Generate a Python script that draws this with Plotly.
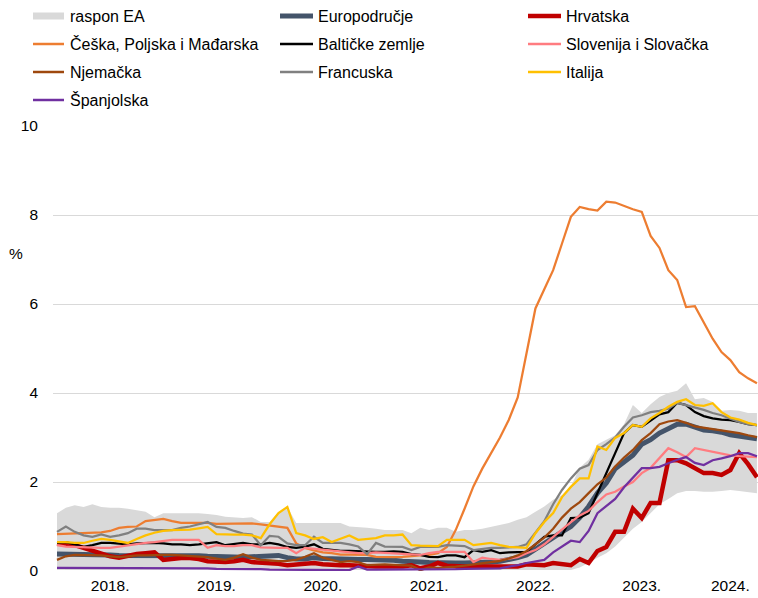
import plotly.graph_objects as go

# ---- data (monthly, Jan 2018 - Aug 2024), % ----
band_lo = [0.02,0.02,0.02,0.02,0.02,0.02,0.02,0.02,0.02,0.02,
           0.02,0.02,0.02,0.02,0.02,0.02,0.02,0.02,0.02,0.02,
           0.02,0.02,0.02,0.02,0.02,0.02,0.02,0.02,0.02,0.02,
           0.02,0.02,0.02,0.02,0.02,0.02,0.02,0.02,0.02,0.02,
           0.02,0.02,0.02,0.02,0.02,0.02,0.02,0.02,0.02,0.02,
           0.02,0.02,0.02,0.02,0.02,0.02,0.02,0.02,0.02,0.08,
           0.18,0.30,0.40,0.55,0.75,0.95,1.10,1.30,1.50,1.62,
           1.75,1.80,1.80,1.78,1.78,1.80,1.82,1.80,1.78,1.75]
band_hi = [1.30,1.42,1.48,1.44,1.50,1.44,1.42,1.42,1.40,1.37,
           1.33,1.21,1.30,1.30,1.30,1.30,1.30,1.28,1.26,1.22,
           1.21,1.19,1.21,1.10,1.10,1.32,1.44,1.08,1.08,1.08,
           1.08,1.08,1.08,1.00,0.99,0.97,0.95,0.92,0.92,0.92,
           0.85,0.97,0.92,0.97,0.97,0.88,0.92,0.92,0.95,0.99,
           1.03,1.08,1.15,1.21,1.33,1.45,1.60,1.71,1.90,2.32,
           2.50,2.85,2.95,3.05,3.30,3.73,3.55,3.75,3.91,4.00,
           4.05,4.22,3.86,3.89,3.80,3.60,3.62,3.60,3.55,3.55]
ea = [0.38,0.38,0.37,0.37,0.36,0.36,0.36,0.35,0.35,0.35,
      0.35,0.35,0.36,0.36,0.35,0.35,0.34,0.33,0.32,0.31,
      0.31,0.31,0.32,0.33,0.36,0.35,0.30,0.27,0.27,0.30,
      0.28,0.27,0.27,0.27,0.26,0.26,0.26,0.25,0.24,0.22,
      0.20,0.20,0.19,0.18,0.18,0.18,0.18,0.18,0.19,0.20,
      0.22,0.25,0.30,0.36,0.50,0.62,0.75,0.88,1.00,1.20,
      1.45,1.75,1.98,2.30,2.45,2.60,2.85,2.95,3.10,3.20,
      3.30,3.30,3.22,3.17,3.15,3.12,3.06,3.03,3.00,2.97]
hr = [0.62,0.60,0.58,0.52,0.46,0.40,0.33,0.30,0.35,0.38,
      0.40,0.42,0.25,0.28,0.29,0.29,0.27,0.22,0.21,0.20,
      0.22,0.25,0.20,0.19,0.18,0.16,0.13,0.14,0.16,0.18,
      0.15,0.13,0.13,0.13,0.12,0.09,0.10,0.10,0.10,0.10,
      0.13,0.06,0.10,0.18,0.12,0.10,0.10,0.10,0.10,0.10,
      0.10,0.12,0.10,0.15,0.13,0.13,0.18,0.15,0.13,0.27,
      0.18,0.45,0.54,0.88,0.88,1.40,1.19,1.53,1.53,2.49,
      2.49,2.42,2.30,2.20,2.20,2.16,2.27,2.65,2.40,2.11]
cz_pl_hu = [0.83,0.84,0.85,0.85,0.86,0.87,0.90,0.97,0.99,1.00,
            1.12,1.15,1.17,1.12,1.08,1.08,1.08,1.08,1.06,1.06,
            1.07,1.07,1.07,1.05,1.02,1.00,0.97,0.62,0.52,0.46,
            0.42,0.40,0.37,0.37,0.37,0.36,0.32,0.31,0.31,0.32,
            0.34,0.35,0.36,0.40,0.54,0.92,1.40,1.90,2.30,2.65,
            3.00,3.40,3.90,4.90,5.90,6.33,6.76,7.36,7.96,8.18,
            8.13,8.10,8.30,8.28,8.20,8.13,8.07,7.53,7.26,6.76,
            6.54,5.93,5.95,5.57,5.22,4.92,4.74,4.47,4.33,4.22]
baltic = [0.63,0.65,0.60,0.54,0.58,0.63,0.63,0.62,0.60,0.62,
          0.63,0.63,0.62,0.60,0.60,0.58,0.60,0.63,0.65,0.58,
          0.60,0.63,0.60,0.60,0.63,0.60,0.54,0.52,0.55,0.60,
          0.50,0.47,0.45,0.45,0.44,0.43,0.43,0.43,0.44,0.43,
          0.38,0.36,0.32,0.31,0.35,0.35,0.31,0.47,0.43,0.47,
          0.40,0.42,0.43,0.43,0.60,0.77,0.80,0.80,1.19,1.20,
          1.30,1.75,2.20,2.65,3.10,3.28,3.24,3.38,3.52,3.57,
          3.78,3.73,3.57,3.48,3.43,3.40,3.39,3.35,3.30,3.28]
si_sk = [0.58,0.55,0.54,0.53,0.52,0.52,0.52,0.55,0.58,0.60,
         0.63,0.65,0.67,0.70,0.70,0.70,0.70,0.52,0.58,0.56,
         0.56,0.58,0.58,0.53,0.52,0.52,0.52,0.40,0.52,0.50,
         0.49,0.47,0.45,0.43,0.40,0.40,0.42,0.41,0.40,0.38,
         0.37,0.36,0.40,0.43,0.43,0.43,0.43,0.20,0.30,0.27,
         0.25,0.28,0.31,0.40,0.47,0.60,0.77,0.92,1.10,1.25,
         1.35,1.55,1.72,1.78,1.90,2.00,2.20,2.32,2.55,2.76,
         2.67,2.56,2.76,2.72,2.67,2.63,2.60,2.58,2.57,2.56]
de = [0.25,0.33,0.36,0.36,0.36,0.35,0.33,0.31,0.33,0.35,
      0.35,0.36,0.36,0.36,0.35,0.33,0.32,0.31,0.28,0.25,
      0.30,0.38,0.30,0.25,0.24,0.22,0.23,0.25,0.32,0.40,
      0.30,0.25,0.20,0.22,0.20,0.13,0.14,0.15,0.14,0.13,
      0.12,0.02,0.08,0.07,0.08,0.10,0.12,0.15,0.18,0.20,
      0.23,0.28,0.35,0.45,0.60,0.75,0.95,1.20,1.40,1.55,
      1.75,1.95,2.10,2.35,2.55,2.72,2.94,3.10,3.30,3.36,
      3.39,3.33,3.25,3.22,3.20,3.17,3.13,3.10,3.05,3.01]
fr = [0.88,1.00,0.88,0.80,0.77,0.82,0.77,0.80,0.85,0.95,
      0.95,0.92,0.92,0.92,0.97,1.00,1.05,1.10,0.99,0.97,
      0.90,0.84,0.82,0.58,0.79,0.77,0.62,0.58,0.58,0.77,
      0.63,0.63,0.63,0.60,0.55,0.38,0.63,0.55,0.54,0.54,
      0.47,0.54,0.54,0.54,0.58,0.57,0.56,0.47,0.50,0.52,
      0.52,0.53,0.54,0.60,0.85,1.12,1.50,1.82,2.08,2.30,
      2.38,2.72,2.85,3.00,3.24,3.45,3.50,3.57,3.60,3.65,
      3.78,3.73,3.68,3.62,3.55,3.50,3.42,3.35,3.30,3.28]
it = [0.65,0.65,0.63,0.63,0.68,0.72,0.70,0.66,0.63,0.72,
      0.80,0.86,0.90,0.92,0.92,0.93,0.96,0.99,0.83,0.82,
      0.82,0.82,0.80,0.74,1.05,1.30,1.44,0.85,0.80,0.72,
      0.76,0.65,0.72,0.80,0.70,0.72,0.74,0.80,0.80,0.82,
      0.58,0.57,0.56,0.56,0.70,0.70,0.70,0.58,0.60,0.63,
      0.58,0.54,0.53,0.52,0.85,1.10,1.30,1.66,1.89,2.08,
      2.08,2.80,2.72,2.99,3.10,3.28,3.24,3.43,3.55,3.69,
      3.80,3.86,3.73,3.71,3.77,3.57,3.45,3.40,3.33,3.28]
es = [0.07,0.07,0.07,0.07,0.07,0.07,0.07,0.07,0.07,0.07,
      0.06,0.06,0.06,0.06,0.06,0.06,0.06,0.06,0.05,0.05,
      0.05,0.05,0.05,0.04,0.03,0.03,0.03,0.03,0.03,0.03,
      0.03,0.02,0.03,0.02,0.10,0.03,0.03,0.03,0.04,0.04,
      0.04,0.04,0.04,0.04,0.04,0.04,0.05,0.05,0.05,0.05,
      0.06,0.10,0.13,0.18,0.22,0.25,0.42,0.55,0.68,0.65,
      0.90,1.30,1.47,1.62,1.88,2.10,2.31,2.31,2.34,2.42,
      2.50,2.56,2.43,2.38,2.49,2.53,2.58,2.65,2.65,2.58]

year_pos = [6, 18, 30, 42, 54, 66, 76]
year_labels = ["2018.", "2019.", "2020.", "2021.", "2022.", "2023.", "2024."]
y_ticks = [0, 2, 4, 6, 8, 10]

x = list(range(len(ea)))

FONT = "Liberation Sans, Arial, sans-serif"
PAGE_W, PAGE_H = 758, 598
PL, PR, PT, PB = 53, 758, 126, 571   # plot area on the page (pixels)
W, H = PAGE_W, PAGE_H
ML, MR, MT, MB = PL, PAGE_W - PR, PT, PAGE_H - PB
PW, PH = PR - PL, PB - PT

series = [
    ("Europodručje", ea, "#44546A", 5),
    ("Hrvatska", hr, "#C00000", 4.5),
    ("Češka, Poljska i Mađarska", cz_pl_hu, "#ED7D31", 2.25),
    ("Baltičke zemlje", baltic, "#000000", 2.25),
    ("Slovenija i Slovačka", si_sk, "#FF7C80", 2.25),
    ("Njemačka", de, "#9E480E", 2.25),
    ("Francuska", fr, "#808080", 2.25),
    ("Italija", it, "#FFC000", 2.25),
    ("Španjolska", es, "#7030A0", 2.25),
]

fig = go.Figure()
fig.add_trace(go.Scatter(x=x, y=band_lo, mode="lines", line=dict(width=0),
                         showlegend=False, hoverinfo="skip"))
fig.add_trace(go.Scatter(x=x, y=band_hi, mode="lines", line=dict(width=0),
                         fill="tonexty", fillcolor="#D9D9D9",
                         name="raspon EA", showlegend=False))
for name, vals, color, w in series:
    fig.add_trace(go.Scatter(x=x, y=vals, mode="lines", name=name,
                             line=dict(color=color, width=w), showlegend=False))

# ---- manual legend (page pixel positions -> paper coords) ----
def px(xp):
    return (xp - PL) / PW

def py(yp):
    return (PB - yp) / PH

cols = [(33, 64, 68), (280, 313, 316), (528, 561, 564)]
rows = [16, 44, 72, 100]
entries = [("raspon EA", "#D9D9D9", "rect")] + [(n, c, w) for n, _, c, w in series]
shapes = []
annotations = []
for k, (name, color, w) in enumerate(entries):
    r, c = divmod(k, 3)
    x0, x1, xt = cols[c]
    yc = rows[r]
    if w == "rect":
        shapes.append(dict(type="rect", xref="paper", yref="paper",
                           x0=px(x0), x1=px(x1), y0=py(yc + 3.5), y1=py(yc - 3.5),
                           fillcolor=color, line=dict(width=0)))
    else:
        shapes.append(dict(type="line", xref="paper", yref="paper",
                           x0=px(x0), x1=px(x1), y0=py(yc), y1=py(yc),
                           line=dict(color=color, width=w if w > 3 else 2.5)))
    annotations.append(dict(text=name, xref="paper", yref="paper", x=px(xt), y=py(yc),
                            xanchor="left", yanchor="middle", showarrow=False,
                            font=dict(size=16, color="#000000", family=FONT)))

annotations.append(dict(text="%", xref="paper", yref="paper", x=px(16), y=py(253),
                        xanchor="center", yanchor="middle", showarrow=False,
                        font=dict(size=15.5, color="#000000", family=FONT)))

fig.update_layout(
    width=W, height=H,
    margin=dict(l=ML, r=MR, t=MT, b=MB, pad=0),
    paper_bgcolor="white", plot_bgcolor="white",
    font=dict(family=FONT, size=15.5, color="#000000"),
    shapes=shapes, annotations=annotations,
    showlegend=False,
    hovermode=False,
    xaxis=dict(range=[-0.45, 79.12], tickmode="array", tickvals=year_pos,
               ticktext=year_labels, showgrid=False, zeroline=False,
               showline=False, ticks="", ticklabelstandoff=3,
               tickfont=dict(size=15.5, color="#000000")),
    yaxis=dict(range=[0, 10], tickmode="array", tickvals=y_ticks,
               showgrid=True, gridcolor="#D9D9D9", gridwidth=1,
               zeroline=False, showline=False, ticks="",
               ticklabelstandoff=14, tickfont=dict(size=15.5, color="#000000")),
)

fig.write_html(
    "out.html",
    config={"displayModeBar": False, "staticPlot": True},
    post_script="document.body.style.margin='0';"
                "document.body.style.padding='0';"
                "document.documentElement.style.overflow='hidden';"
                "document.body.style.overflow='hidden';",
)
